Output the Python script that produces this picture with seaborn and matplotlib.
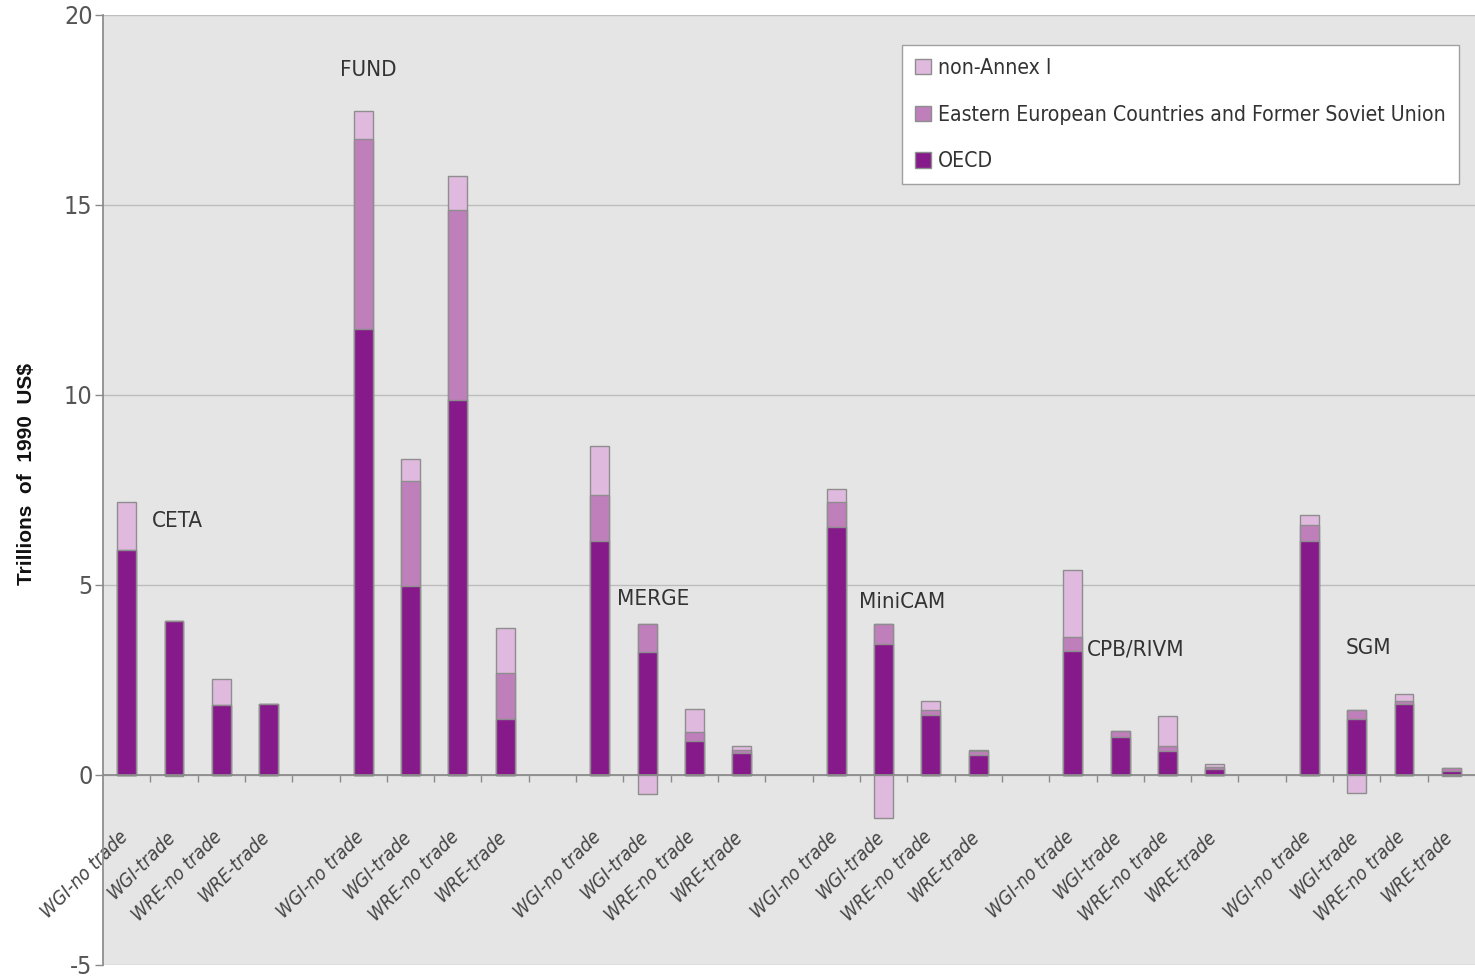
import numpy as np
import pandas as pd
import matplotlib
matplotlib.use("Agg")
import matplotlib.pyplot as plt
import matplotlib.transforms as mtransforms
import seaborn as sns

# ---------------- data ----------------
models = ["CETA", "FUND", "MERGE", "MiniCAM", "CPB/RIVM", "SGM"]
scenarios = ["WGI-no trade", "WGI-trade", "WRE-no trade", "WRE-trade"]

oecd = [5.91, 4.05, 1.83, 1.88,
        11.73, 4.97, 9.86, 1.47,
        6.15, 3.23, 0.90, 0.58,
        6.52, 3.45, 1.57, 0.53,
        3.27, 0.99, 0.64, 0.16,
        6.15, 1.47, 1.88, 0.10]
eefsu = [0.00, 0.00, 0.00, 0.00,
         5.01, 2.76, 5.02, 1.21,
         1.22, 0.75, 0.22, 0.09,
         0.66, 0.53, 0.13, 0.11,
         0.35, 0.17, 0.12, 0.05,
         0.44, 0.23, 0.07, 0.08]
non_annex = [1.28, -0.03, 0.70, 0.00,
             0.74, 0.58, 0.88, 1.19,
             1.30, -0.51, 0.62, 0.09,
             0.35, -1.12, 0.24, 0.02,
             1.77, 0.00, 0.78, 0.08,
             0.26, -0.47, 0.17, -0.03]

series_names = ["OECD", "Eastern European Countries and Former Soviet Union", "non-Annex I"]
col_oecd = "#861A8A"
col_eefsu = "#BF7FBB"
col_nona = "#DFBADE"
edge = "#8E8E8E"

# ---------------- frame ----------------
rows = []
for gi, m in enumerate(models):
    for si, s in enumerate(scenarios):
        k = gi * 4 + si
        rows.append(dict(model=m, scenario=s, pos=gi * 5 + si,
                         oecd=oecd[k], eefsu=eefsu[k], nona=non_annex[k]))
df = pd.DataFrame(rows)
df["lvl_dark"] = df["oecd"]
df["lvl_mid"] = df["oecd"] + df["eefsu"]
df["lvl_top"] = df["lvl_mid"] + df["nona"].clip(lower=0)
df["lvl_neg"] = df["nona"].clip(upper=0)

# ---------------- fonts ----------------
sns.set_theme(style="white")
plt.rcParams["font.family"] = ["DejaVu Sans"]
plt.rcParams["font.stretch"] = "condensed"

W, H = 1475, 977
fig = plt.figure(figsize=(W / 100, H / 100), dpi=100)
ax_l, ax_r, ax_t, ax_b = 103, 1475, 15, 965
ax = fig.add_axes([ax_l / W, 1 - ax_b / H, (ax_r - ax_l) / W, (ax_b - ax_t) / H])
ax.set_facecolor("#E5E5E5")

common = dict(x="pos", native_scale=True, width=0.4, errorbar=None,
              saturation=1, edgecolor=edge, linewidth=1.0, ax=ax, zorder=3)
sns.barplot(data=df, y="lvl_top", color=col_nona, label=series_names[2], **common)
sns.barplot(data=df, y="lvl_mid", color=col_eefsu, label=series_names[1], **common)
sns.barplot(data=df, y="lvl_dark", color=col_oecd, label=series_names[0], **common)
sns.barplot(data=df, y="lvl_neg", color=col_nona, **common)

# ---------------- axes ----------------
n_slots = len(models) * 5 - 1
ax.set_xlim(-0.5, n_slots - 0.5)
ax.set_ylim(-5, 20)
ax.set_yticks([-5, 0, 5, 10, 15, 20])
ax.set_yticklabels(["-5", "0", "5", "10", "15", "20"])
ax.yaxis.grid(True, color="#BDBDBD", linewidth=1.0, zorder=0)
ax.set_axisbelow(True)
ax.tick_params(axis="y", which="major", left=True, length=6, width=1, color="#8A8A8A",
               labelsize=18, labelcolor="#555555", pad=1.5)

ax.set_xticks(df["pos"].tolist())
ax.set_xticklabels(df["scenario"].tolist())
ax.set_xticks(np.arange(0.5, n_slots - 0.5, 1.0), minor=True)
ax.tick_params(axis="x", which="major", length=0, pad=38, labelsize=13.8,
               labelrotation=45, labelcolor="#454545")
ax.tick_params(axis="x", which="minor", bottom=True, length=5, width=1, color="#8A8A8A")

for sp in ["top", "right"]:
    ax.spines[sp].set_visible(False)
ax.spines["bottom"].set_position(("data", 0))
ax.spines["bottom"].set_color("#8A8A8A")
ax.spines["left"].set_color("#8A8A8A")
ax.spines["bottom"].set_zorder(4)

ax.set_xlabel("")
ax.set_ylabel("Trillions  of  1990  US$", fontsize=15, fontweight="bold",
              fontstretch="normal", family=["Liberation Sans", "DejaVu Sans"], color="#111111")
ax.yaxis.set_label_coords(-0.049, 0.517)

# model labels
label_pos = {"CETA": (0.54, 6.68), "FUND": (4.51, 18.55), "MERGE": (10.36, 4.64),
             "MiniCAM": (15.48, 4.56), "CPB/RIVM": (20.3, 3.29), "SGM": (25.77, 3.34)}
for m in models:
    x, y = label_pos[m]
    ax.text(x, y, m, ha="left", va="center", fontsize=16, color="#333333", zorder=5)

# legend
handles, labels = ax.get_legend_handles_labels()
order = [labels.index(n) for n in [series_names[2], series_names[1], series_names[0]]]
leg = ax.legend([handles[i] for i in order], [labels[i] for i in order],
                loc="upper right", bbox_to_anchor=(0.988, 0.968), fontsize=15.2,
                frameon=True, fancybox=False, framealpha=1, facecolor="white",
                edgecolor="#A0A0A0", handlelength=0.75, handleheight=0.75,
                handletextpad=0.35, labelspacing=1.26, borderpad=0.6, borderaxespad=0)
for t in leg.get_texts():
    t.set_color("#333333")
leg.set_zorder(6)

shift = mtransforms.ScaledTranslation(5 / 100, 0, fig.dpi_scale_trans)
for lab in ax.get_xticklabels():
    lab.set_horizontalalignment("right")
    lab.set_style("italic")
    lab.set_transform(lab.get_transform() + shift)

fig.savefig("out.png", dpi=100, facecolor="white")
